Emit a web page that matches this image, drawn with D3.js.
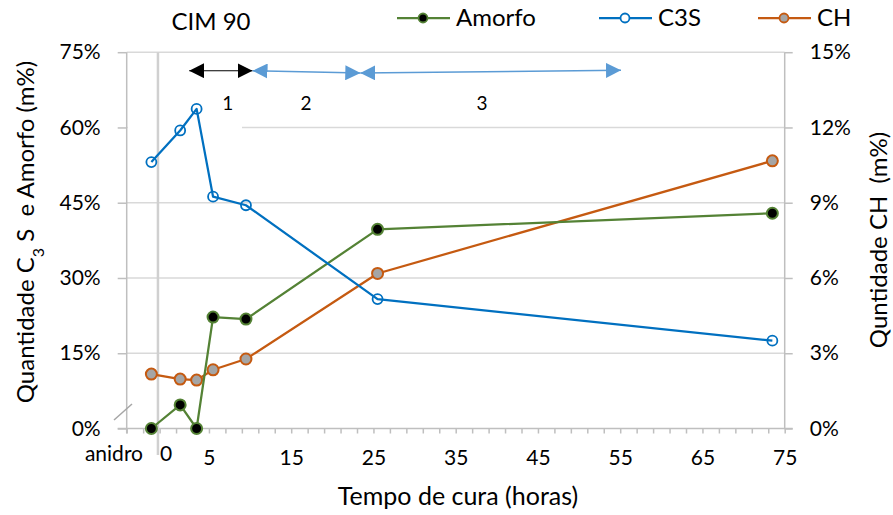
<!DOCTYPE html>
<html><head><meta charset="utf-8">
<script src="https://cdn.jsdelivr.net/npm/d3@7"></script>
<style>
body{margin:0;background:#fff;}
svg text{font-family:Lato,"Open Sans",sans-serif;fill:#000;white-space:pre;}
</style></head>
<body><svg id="c" width="893" height="515"></svg>
<script>
// ---- data ----
const hours = [-2, 1.5, 3.5, 5.5, 9.5, 25.5, 73.5];
const amorfo = [0, 4.7, 0, 22.2, 21.8, 39.7, 42.9];
const c3s = [53.1, 59.4, 63.7, 46.2, 44.5, 25.8, 17.5];
const ch = [2.17, 1.97, 1.93, 2.34, 2.77, 6.18, 10.67];
const xTickLabels = [5, 15, 25, 35, 45, 55, 65, 75];
const yLeftTicks = [0, 15, 30, 45, 60, 75];
const yRightTicks = [0, 3, 6, 9, 12, 15];
const seriesNames = ["Amorfo", "C3S", "CH"];
// period arrows (x in hours, y in left-axis %)
const periodArrows = [
  {x1: 2.6, y1: 71.3, x2: 10.3, y2: 71.3, color: "#000000", label: "1", lx: 7.3},
  {x1: 10.3, y1: 71.3, x2: 23.4, y2: 70.85, color: "#5b9bd5", label: "2", lx: 16.8},
  {x1: 23.4, y1: 70.85, x2: 55.1, y2: 71.4, color: "#5b9bd5", label: "3", lx: 38.2}
];

const svg = d3.select("#c");
const L = 126.7, R = 784.7, T = 52.2, B = 428.5;
const x = d3.scaleLinear().domain([-5, 75]).range([L, R]);
const yL = d3.scaleLinear().domain([0, 75]).range([B, T]);
const yR = d3.scaleLinear().domain([0, 15]).range([B, T]);
const gridC = "#d9d9d9", axisC = "#bfbfbf";

// gridlines
svg.append("g").selectAll("line").data(yLeftTicks.slice(1)).join("line")
  .attr("x1", L).attr("x2", R).attr("y1", d => yL(d)).attr("y2", d => yL(d))
  .attr("stroke", gridC).attr("stroke-width", 1.5);

// white text-box behind label "1"
svg.append("rect").attr("x", L + 1).attr("y", 88).attr("width", 242 - L - 1).attr("height", 44).attr("fill", "#fff");

// left axis
const gl = svg.append("g").attr("transform", `translate(${L},0)`)
  .call(d3.axisLeft(yL).tickValues(yLeftTicks).tickFormat(d => d + "%").tickSize(9).tickPadding(17));
// right axis
const gr = svg.append("g").attr("transform", `translate(${R},0)`)
  .call(d3.axisRight(yR).tickValues(yRightTicks).tickFormat(d => d + "%").tickSize(8).tickPadding(17));
// bottom axis: minor ticks every 2 from -5
const minor = d3.range(-5, 75.01, 2);
const gb = svg.append("g").attr("transform", `translate(0,${B})`)
  .call(d3.axisBottom(x).tickValues(minor).tickFormat(d => xTickLabels.includes(d) ? d : "").tickSize(5).tickPadding(20));
[gl, gr, gb].forEach(g => {
  g.selectAll(".domain").attr("stroke", axisC).attr("stroke-width", 1.5);
  g.selectAll(".tick line").attr("stroke", axisC).attr("stroke-width", 1.5);
  g.selectAll("text").style("font-size", "21px").attr("fill", "#000");
});
gl.select(".domain").attr("d", `M0,${T}V${B + 5}`);
gr.select(".domain").attr("d", `M0,${T}V${B}`);
gb.select(".domain").attr("d", `M${L - 9},0H${R + 8}`);
gb.selectAll("text").attr("dy", "0.55em");

// vertical separator at anhydrous / 0
svg.append("line").attr("x1", x(-1.2)).attr("x2", x(-1.2)).attr("y1", T).attr("y2", 455)
  .attr("stroke", "#d0d0d0").attr("stroke-width", 2.5);
// axis break mark
svg.append("line").attr("x1", 114).attr("y1", 420).attr("x2", 132).attr("y2", 404)
  .attr("stroke", "#a6a6a6").attr("stroke-width", 1.5);

svg.append("text").attr("x", 143).attr("y", 461).attr("text-anchor", "end").style("font-size", "21px").text("anidro");
svg.append("text").attr("x", 166).attr("y", 461).attr("text-anchor", "middle").style("font-size", "21px").text("0");

// arrows
const defs = svg.append("defs");
["#000000", "#5b9bd5"].forEach((c, i) => {
  defs.append("marker").attr("id", "ah" + i).attr("viewBox", "0 0 10 10").attr("refX", 10).attr("refY", 5)
    .attr("markerWidth", 15).attr("markerHeight", 15).attr("markerUnits", "userSpaceOnUse").attr("orient", "auto-start-reverse")
    .append("path").attr("d", "M0,0L10,5L0,10Z").attr("fill", c);
});
svg.append("g").selectAll("line").data(periodArrows).join("line")
  .attr("x1", d => x(d.x1)).attr("y1", d => yL(d.y1)).attr("x2", d => x(d.x2)).attr("y2", d => yL(d.y2))
  .attr("stroke", d => d.color).attr("stroke-width", d => d.color === "#000000" ? 1.2 : 1.6)
  .attr("marker-start", d => d.color === "#000000" ? "url(#ah0)" : "url(#ah1)")
  .attr("marker-end", d => d.color === "#000000" ? "url(#ah0)" : "url(#ah1)");
svg.append("g").selectAll("text").data(periodArrows).join("text")
  .attr("x", d => x(d.lx)).attr("y", 110).attr("text-anchor", "middle").style("font-size", "19px").text(d => d.label);

// series
const series = [
  {name: seriesNames[0], vals: amorfo, y: yL, stroke: "#548235", fill: "#000000", mstroke: "#548235", r: 5.5},
  {name: seriesNames[1], vals: c3s, y: yL, stroke: "#0070c0", fill: "none", mstroke: "#0070c0", r: 5},
  {name: seriesNames[2], vals: ch, y: yR, stroke: "#c55a11", fill: "#a5a5a5", mstroke: "#c55a11", r: 5.5}
];
const drawOrder = [series[2], series[0], series[1]];
drawOrder.forEach(s => {
  const pts = hours.map((h, i) => [h, s.vals[i]]);
  svg.append("path").datum(pts).attr("fill", "none").attr("stroke", s.stroke).attr("stroke-width", 2.25)
    .attr("stroke-linejoin", "round")
    .attr("d", d3.line().x(d => x(d[0])).y(d => s.y(d[1])));
  svg.append("g").selectAll("circle").data(pts).join("circle")
    .attr("cx", d => x(d[0])).attr("cy", d => s.y(d[1])).attr("r", s.r)
    .attr("fill", s.fill).attr("stroke", s.mstroke).attr("stroke-width", s.fill === "none" ? 1.8 : 2);
});

// legend
const legX = [397, 599, 758];
const lg = svg.append("g").selectAll("g").data(series).join("g")
  .attr("transform", (d, i) => `translate(${legX[i]},18)`);
lg.append("line").attr("x1", 0).attr("x2", 53).attr("stroke", d => d.stroke).attr("stroke-width", 2.25);
lg.append("circle").attr("cx", 26).attr("r", 4.5).attr("fill", d => d.fill === "none" ? "#fff" : d.fill)
  .attr("stroke", d => d.mstroke).attr("stroke-width", 1.8);
lg.append("text").attr("x", 59).attr("y", 8).style("font-size", "24px").text(d => d.name);

// title
svg.append("text").attr("x", 211).attr("y", 30).attr("text-anchor", "middle").style("font-size", "24px").text("CIM 90");

// axis titles
const lt = svg.append("text").attr("transform", "translate(34,232) rotate(-90)").attr("text-anchor", "middle").style("font-size", "24px");
lt.append("tspan").text("Quantidade C");
lt.append("tspan").attr("baseline-shift", "sub").style("font-size", "16px").text("3");
lt.append("tspan").text(" S  e Amorfo (m%)");
svg.append("text").attr("transform", "translate(887,240) rotate(-90)").attr("text-anchor", "middle").style("font-size", "24px").text("Quntidade CH  (m%)");
svg.append("text").attr("x", 458).attr("y", 505).attr("text-anchor", "middle").style("font-size", "25px").text("Tempo de cura (horas)");
</script></body></html>
